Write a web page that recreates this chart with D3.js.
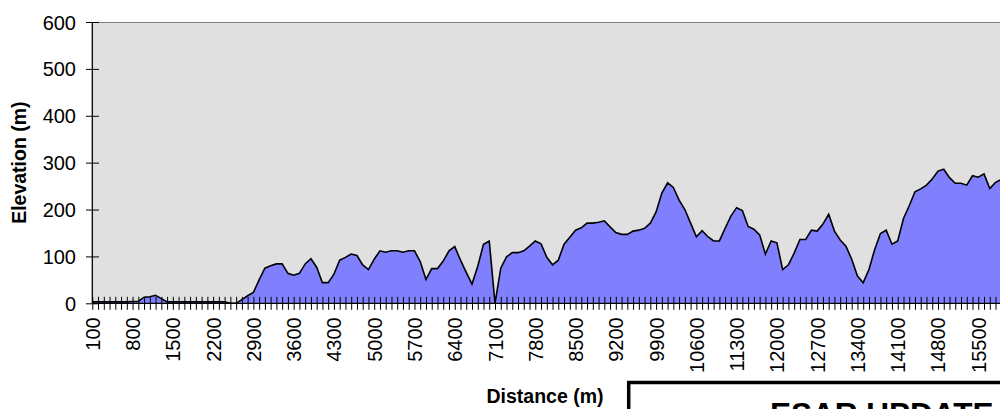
<!DOCTYPE html>
<html>
<head>
<meta charset="utf-8">
<script src="https://cdn.jsdelivr.net/npm/d3@7"></script>
<style>
html,body{margin:0;padding:0;background:#fff;overflow:hidden;}
svg{display:block;font-family:"Liberation Sans",Arial,sans-serif;}
</style>
</head>
<body>
<svg id="chart" width="1000" height="409"></svg>
<script>
// Categories: distance (m)
const distances = [
 100,200,300,400,500,600,700,800,900,1000,1100,1200,1300,1400,1500,1600,1700,1800,1900,2000,
 2100,2200,2300,2400,2500,2600,2700,2800,2900,3000,3100,3200,3300,3400,3500,3600,3700,3800,3900,4000,
 4100,4200,4300,4400,4500,4600,4700,4800,4900,5000,5100,5200,5300,5400,5500,5600,5700,5800,5900,6000,
 6100,6200,6300,6400,6500,6600,6700,6800,6900,7000,7100,7200,7300,7400,7500,7600,7700,7800,7900,8000,
 8100,8200,8300,8400,8500,8600,8700,8800,8900,9000,9100,9200,9300,9400,9500,9600,9700,9800,9900,10000,
 10100,10200,10300,10400,10500,10600,10700,10800,10900,11000,11100,11200,11300,11400,11500,11600,11700,11800,11900,12000,
 12100,12200,12300,12400,12500,12600,12700,12800,12900,13000,13100,13200,13300,13400,13500,13600,13700,13800,13900,14000,
 14100,14200,14300,14400,14500,14600,14700,14800,14900,15000,15100,15200,15300,15400,15500,15600,15700,15800,15900,16000
];
// Series: elevation (m)
const elevation = [
 3,3,3,3,3,3,3,4,4,13,14,17,10,3,3,3,3,3,3,3,
 3,3,3,3,0,0,8,16,23,50,75,80,84,84,64,60,64,84,95,77,
 44,44,62,92,98,105,102,82,72,94,112,109,112,112,109,112,112,89,51,74,
 74,90,112,121,92,66,41,79,126,133,0,75,99,108,108,112,122,133,127,98,
 82,92,126,141,156,161,171,171,173,176,163,151,147,147,154,156,160,171,195,235,
 257,247,220,200,171,142,155,142,133,133,160,186,204,198,164,158,146,105,133,129,
 72,82,107,136,136,156,154,169,190,154,135,122,94,58,44,72,115,149,156,126,
 133,181,208,238,244,252,265,282,286,268,256,256,252,272,269,276,245,258,264,268
];
// Tick labels
const xTickLabels = [100,800,1500,2200,2900,3600,4300,5000,5700,6400,7100,7800,8500,9200,9900,10600,11300,12000,12700,13400,14100,14800,15500];
const yTicks = [0,100,200,300,400,500,600];
const xTitle = "Distance (m)";
const yTitle = "Elevation (m)";
const boxText = "ESAR UPDATE";

const svg = d3.select("#chart");
const W = 1000, H = 409;
const pLeft = 92.3, pTop = 22, pBottom = 303.3, step = 5.753;

const x = d3.scalePoint().domain(distances).range([pLeft, pLeft + step * (distances.length - 1)]);
const y = d3.scaleLinear().domain([0, 600]).range([pBottom, pTop]);

// plot background
svg.append("rect").attr("x", pLeft).attr("y", pTop).attr("width", W - pLeft + 20).attr("height", pBottom - pTop)
  .attr("fill", "#e0e0e0");
// top border
svg.append("line").attr("x1", pLeft).attr("x2", W + 10).attr("y1", pTop + 0.5).attr("y2", pTop + 0.5)
  .attr("stroke", "#808080").attr("stroke-width", 1);

const data = distances.map((d, i) => ({d, v: elevation[i]}));

svg.append("path").datum(data)
  .attr("d", d3.area().x(p => x(p.d)).y0(y(0)).y1(p => y(p.v)))
  .attr("fill", "#8080ff");
svg.append("path").datum(data)
  .attr("d", d3.line().x(p => x(p.d)).y(p => y(p.v)))
  .attr("fill", "none").attr("stroke", "#000").attr("stroke-width", 1.6).attr("stroke-linejoin", "miter");

// x axis ticks (cross)
const xTicksG = svg.append("g").attr("transform", `translate(0,${pBottom - 6.5})`)
  .call(d3.axisBottom(x).tickValues(distances).tickSize(13).tickFormat(""));
xTicksG.select(".domain").remove();
xTicksG.selectAll(".tick line").attr("stroke", "#000").attr("stroke-width", 1);

// x axis line
svg.append("line").attr("x1", pLeft).attr("x2", W + 10).attr("y1", pBottom).attr("y2", pBottom)
  .attr("stroke", "#000").attr("stroke-width", 1.3);

// x tick labels
const xLab = svg.append("g").attr("transform", `translate(0,${pBottom})`)
  .call(d3.axisBottom(x).tickValues(xTickLabels).tickSize(0).tickFormat(d3.format("d")));
xLab.select(".domain").remove();
xLab.selectAll("text")
  .attr("font-size", 20).attr("font-family", "Liberation Sans, Arial, sans-serif").attr("fill", "#000")
  .attr("text-anchor", "end").attr("transform", "rotate(-90)")
  .attr("x", -14).attr("y", 0).attr("dy", "0.35em");

// y axis
const yAx = svg.append("g").attr("transform", `translate(${pLeft + 6.7},0)`)
  .call(d3.axisLeft(y).tickValues(yTicks).tickSize(13).tickFormat(d3.format("d")));
yAx.select(".domain").remove();
yAx.selectAll(".tick line").attr("stroke", "#000").attr("stroke-width", 1);
yAx.selectAll("text").attr("font-size", 20).attr("font-family", "Liberation Sans, Arial, sans-serif")
  .attr("fill", "#000").attr("x", -23).attr("dy", "0.35em");
svg.append("line").attr("x1", pLeft).attr("x2", pLeft).attr("y1", pTop).attr("y2", pBottom)
  .attr("stroke", "#000").attr("stroke-width", 1.3);

// titles
svg.append("text").attr("x", 545).attr("y", 403).attr("text-anchor", "middle")
  .attr("font-size", 19.5).attr("font-weight", "bold").text(xTitle);
svg.append("text").attr("transform", `translate(26,${(pTop + pBottom) / 2}) rotate(-90)`)
  .attr("text-anchor", "middle").attr("font-size", 19.5).attr("font-weight", "bold").text(yTitle);

// ESAR UPDATE box
svg.append("rect").attr("x", 628.7).attr("y", 382.5).attr("width", 400).attr("height", 100)
  .attr("fill", "#fff").attr("stroke", "#000").attr("stroke-width", 3.5);
svg.append("text").attr("x", 770).attr("y", 424.5).attr("font-size", 31.5).attr("font-weight", "bold")
  .text(boxText);
</script>
</body>
</html>
